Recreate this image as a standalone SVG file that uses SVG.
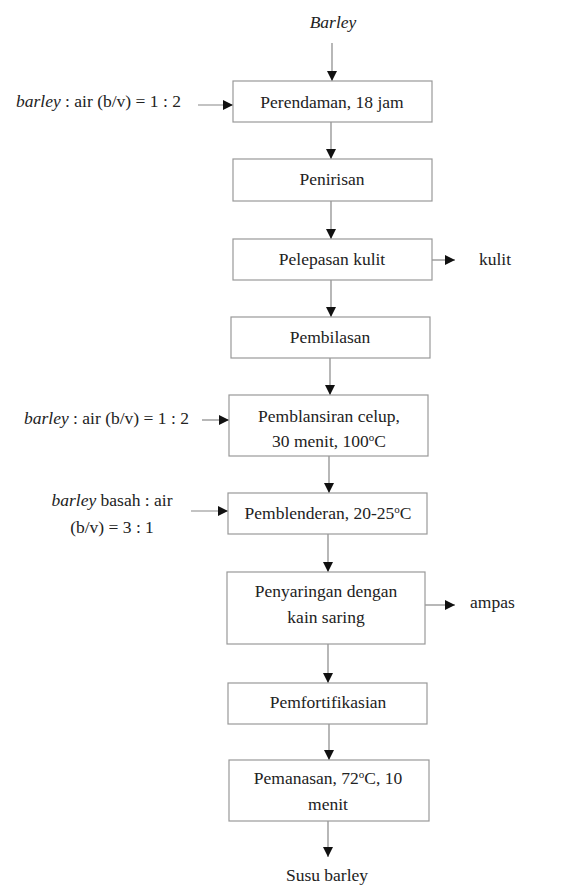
<svg xmlns="http://www.w3.org/2000/svg" width="576" height="885" viewBox="0 0 576 885">
<defs>
<style>
text{font-size:17.5px;fill:#222}
.c{text-anchor:middle}
.box{fill:#fff;stroke:#999;stroke-width:1.2}
.ln{stroke:#888;stroke-width:1.2;fill:none;marker-end:url(#ah)}
.i{font-style:italic}
.sup{font-size:11px}
</style>
<marker id="ah" viewBox="0 0 10 10" refX="10" refY="5" markerUnits="userSpaceOnUse" markerWidth="11" markerHeight="10" orient="auto">
<path d="M0,0 L10,5 L0,10 Z" fill="#111"/>
</marker>
</defs>
<rect width="576" height="885" fill="#fff"/>
<g id="connectors">
<line class="ln" x1="332" y1="43" x2="332" y2="81"/>
<line class="ln" x1="198" y1="105" x2="233" y2="105"/>
<line class="ln" x1="331" y1="122" x2="331" y2="159"/>
<line class="ln" x1="331" y1="201" x2="331" y2="239"/>
<line class="ln" x1="432" y1="260" x2="455" y2="260"/>
<line class="ln" x1="331" y1="280" x2="331" y2="317"/>
<line class="ln" x1="330" y1="358" x2="330" y2="395"/>
<line class="ln" x1="202" y1="420" x2="229" y2="420"/>
<line class="ln" x1="329" y1="456" x2="329" y2="493"/>
<line class="ln" x1="191" y1="511" x2="228" y2="511"/>
<line class="ln" x1="328" y1="534" x2="328" y2="572"/>
<line class="ln" x1="425" y1="605" x2="455" y2="605"/>
<line class="ln" x1="328" y1="644" x2="328" y2="683"/>
<line class="ln" x1="329" y1="724" x2="329" y2="760"/>
<line class="ln" x1="328" y1="821" x2="328" y2="857"/>
</g>
<g id="barley"><text class="c i" x="333" y="28" font-family="Liberation Serif, serif">Barley</text></g>
<g id="in1"><text x="16" y="107" font-family="Liberation Serif, serif"><tspan class="i">barley</tspan> : air (b/v) = 1 : 2</text></g>
<g id="n1"><rect class="box" x="233" y="81" width="199" height="41"/><text class="c" x="332" y="108" font-family="Liberation Serif, serif">Perendaman, 18 jam</text></g>
<g id="n2"><rect class="box" x="233" y="159" width="199" height="42"/><text class="c" x="332" y="185" font-family="Liberation Serif, serif">Penirisan</text></g>
<g id="n3"><rect class="box" x="233" y="239" width="199" height="41"/><text class="c" x="332" y="265" font-family="Liberation Serif, serif">Pelepasan kulit</text></g>
<g id="out1"><text x="479" y="265" font-family="Liberation Serif, serif">kulit</text></g>
<g id="n4"><rect class="box" x="231" y="317" width="199" height="41"/><text class="c" x="330" y="343" font-family="Liberation Serif, serif">Pembilasan</text></g>
<g id="in2"><text x="24" y="424" font-family="Liberation Serif, serif"><tspan class="i">barley</tspan> : air (b/v) = 1 : 2</text></g>
<g id="n5"><rect class="box" x="229" y="395" width="199" height="61"/><text class="c" x="329" y="422" font-family="Liberation Serif, serif">Pemblansiran celup,</text><text class="c" x="329" y="447" font-family="Liberation Serif, serif">30 menit, 100<tspan class="sup" dy="-6">o</tspan><tspan dy="6">C</tspan></text></g>
<g id="in3"><text class="c" x="112" y="506" font-family="Liberation Serif, serif"><tspan class="i">barley</tspan> basah : air</text><text class="c" x="112" y="533" font-family="Liberation Serif, serif">(b/v) = 3 : 1</text></g>
<g id="n6"><rect class="box" x="228" y="493" width="199" height="41"/><text class="c" x="328" y="519" font-family="Liberation Serif, serif">Pemblenderan, 20-25<tspan class="sup" dy="-6">o</tspan><tspan dy="6">C</tspan></text></g>
<g id="n7"><rect class="box" x="227" y="572" width="198" height="72"/><text class="c" x="326" y="597" font-family="Liberation Serif, serif">Penyaringan dengan</text><text class="c" x="326" y="623" font-family="Liberation Serif, serif">kain saring</text></g>
<g id="out2"><text x="470" y="608" font-family="Liberation Serif, serif">ampas</text></g>
<g id="n8"><rect class="box" x="228" y="683" width="199" height="41"/><text class="c" x="328" y="708" font-family="Liberation Serif, serif">Pemfortifikasian</text></g>
<g id="n9"><rect class="box" x="229" y="760" width="200" height="61"/><text class="c" x="328" y="784" font-family="Liberation Serif, serif">Pemanasan, 72<tspan class="sup" dy="-6">o</tspan><tspan dy="6">C, 10</tspan></text><text class="c" x="328" y="810" font-family="Liberation Serif, serif">menit</text></g>
<g id="product"><text class="c" x="327" y="881" font-family="Liberation Serif, serif">Susu barley</text></g>
</svg>
